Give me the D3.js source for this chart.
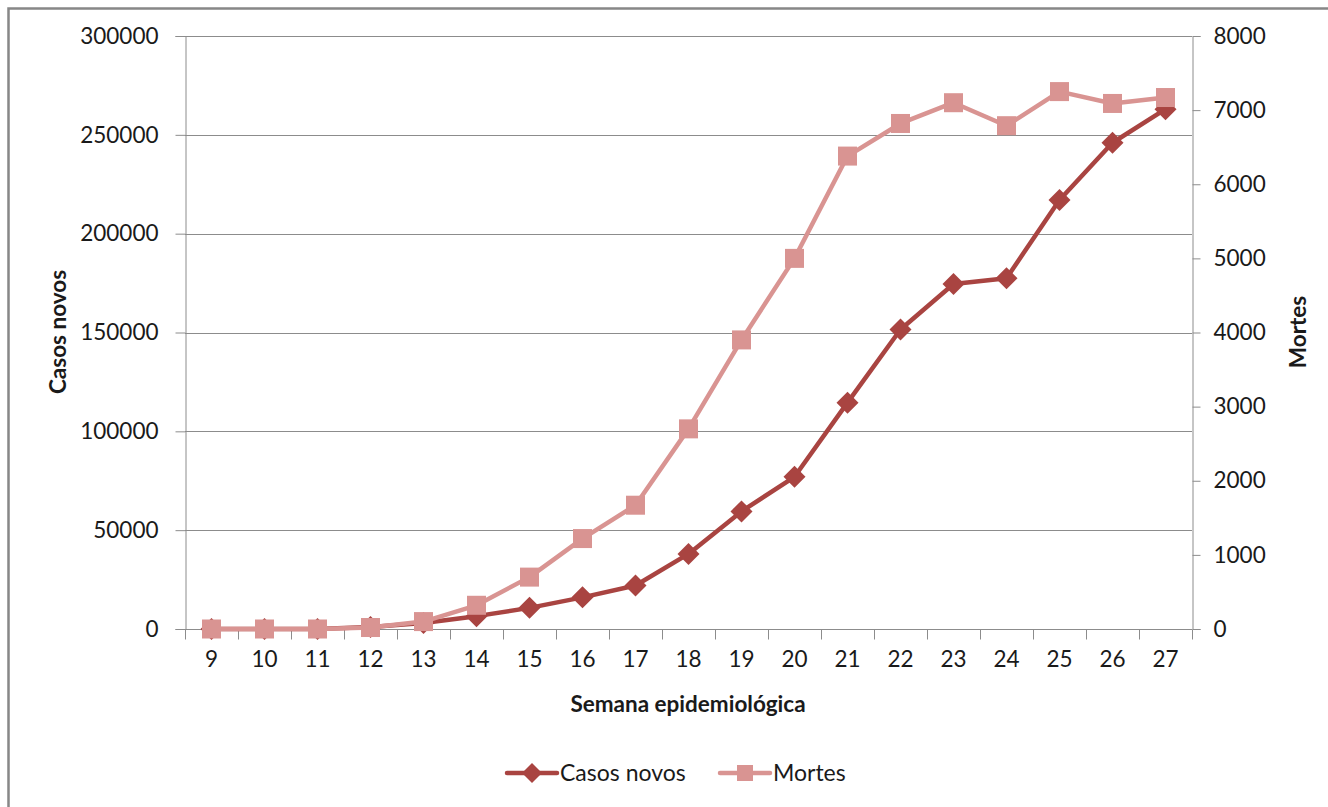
<!DOCTYPE html>
<html>
<head>
<meta charset="utf-8">
<script src="https://cdn.jsdelivr.net/npm/d3@7"></script>
<style>
  html, body { margin: 0; padding: 0; background: #fff; }
  svg { display: block; }
  text { font-family: Lato, "Open Sans", sans-serif; fill: #1a1a1a; }
</style>
</head>
<body>
<svg id="chart" width="1328" height="807"></svg>
<script>
// Semanas epidemiológicas
const semanas = [9, 10, 11, 12, 13, 14, 15, 16, 17, 18, 19, 20, 21, 22, 23, 24, 25, 26, 27];
// Casos novos por semana (eixo esquerdo)
const casosNovos = [0, 0, 0, 1000, 3000, 6500, 10700, 16000, 22000, 38000, 59500, 77000, 114500, 151500, 174500, 177500, 217000, 246000, 263000];
// Mortes por semana (eixo direito)
const mortes = [0, 0, 0, 20, 100, 320, 700, 1220, 1670, 2700, 3900, 5000, 6380, 6820, 7100, 6790, 7250, 7090, 7170];
// Marcas dos eixos
const ticksCasos = [0, 50000, 100000, 150000, 200000, 250000, 300000];
const ticksMortes = [0, 1000, 2000, 3000, 4000, 5000, 6000, 7000, 8000];

const corCasos = "#A94441";
const corMortes = "#D99492";

const svg = d3.select("#chart");
const m = { left: 185, right: 1192, top: 36, bottom: 629 };

// Moldura externa
svg.append("rect")
  .attr("x", 8.5).attr("y", 8.5)
  .attr("width", 1340).attr("height", 820)
  .attr("fill", "none").attr("stroke", "#878787").attr("stroke-width", 2.5);

const x = d3.scaleBand().domain(semanas).range([m.left, m.right]);
const yL = d3.scaleLinear().domain([0, 300000]).range([m.bottom, m.top]);
const yR = d3.scaleLinear().domain([0, 8000]).range([m.bottom, m.top]);

// Linhas de grade
svg.append("g").selectAll("line").data(ticksCasos.slice(1)).join("line")
  .attr("x1", m.left).attr("x2", m.right)
  .attr("y1", d => Math.round(yL(d)) + 0.5).attr("y2", d => Math.round(yL(d)) + 0.5)
  .attr("stroke", "#8c8c8c").attr("stroke-width", 1);

// Eixo esquerdo
const axL = svg.append("g").attr("transform", `translate(${m.left + 0.5},0)`)
  .call(d3.axisLeft(yL).tickValues(ticksCasos).tickFormat(d3.format("d")).tickSize(10).tickPadding(17));
// Eixo direito
const axR = svg.append("g").attr("transform", `translate(${m.right + 0.5},0)`)
  .call(d3.axisRight(yR).tickValues(ticksMortes).tickFormat(d3.format("d")).tickSize(8).tickPadding(13));
// Eixo X
const axX = svg.append("g").attr("transform", `translate(0,${m.bottom + 0.5})`)
  .call(d3.axisBottom(x).tickSize(0).tickPadding(22));
// Traços do eixo X entre as categorias
axX.selectAll(".sep").data(d3.range(semanas.length + 1)).join("line")
  .attr("class", "sep")
  .attr("x1", i => Math.round(m.left + i * x.step()) + 0.5)
  .attr("x2", i => Math.round(m.left + i * x.step()) + 0.5)
  .attr("y1", 0).attr("y2", 10)
  .attr("stroke", "#8c8c8c");

[axL, axR, axX].forEach(a => {
  a.select(".domain").attr("stroke", "#8c8c8c");
  a.selectAll(".tick line").attr("stroke", "#8c8c8c");
  a.selectAll("text").style("font-family", "Lato, 'Open Sans', sans-serif").style("font-size", "22.5px").attr("fill", "#1a1a1a");
});
axX.select(".domain").attr("d", `M${m.left},0H${m.right}`);

// Títulos dos eixos
svg.append("text").attr("transform", "translate(66,332) rotate(-90)")
  .attr("text-anchor", "middle").style("font-size", "22.5px").style("font-weight", "bold").text("Casos novos");
svg.append("text").attr("transform", "translate(1306,332) rotate(-90)")
  .attr("text-anchor", "middle").style("font-size", "22.5px").style("font-weight", "bold").text("Mortes");
svg.append("text").attr("x", 688).attr("y", 712)
  .attr("text-anchor", "middle").style("font-size", "22.5px").style("font-weight", "bold").text("Semana epidemiológica");

const cx = d => x(d) + x.bandwidth() / 2;

// Série Casos novos
const lineC = d3.line().x((d, i) => cx(semanas[i])).y(d => yL(d));
svg.append("path").datum(casosNovos).attr("d", lineC)
  .attr("fill", "none").attr("stroke", corCasos).attr("stroke-width", 4.5).attr("stroke-linejoin", "round");
const diamond = "M0,-11L11,0L0,11L-11,0Z";
svg.append("g").selectAll("path").data(casosNovos).join("path")
  .attr("transform", (d, i) => `translate(${cx(semanas[i])},${yL(d)})`)
  .attr("d", diamond).attr("fill", corCasos);

// Série Mortes (desenhada por cima)
const lineM = d3.line().x((d, i) => cx(semanas[i])).y(d => yR(d));
svg.append("path").datum(mortes).attr("d", lineM)
  .attr("fill", "none").attr("stroke", corMortes).attr("stroke-width", 4.5).attr("stroke-linejoin", "round");
svg.append("g").selectAll("rect").data(mortes).join("rect")
  .attr("x", (d, i) => cx(semanas[i]) - 9.5).attr("y", d => yR(d) - 9.5)
  .attr("width", 19).attr("height", 19).attr("fill", corMortes);

// Legenda
const leg = svg.append("g");
leg.append("line").attr("x1", 507).attr("x2", 557).attr("y1", 773).attr("y2", 773)
  .attr("stroke", corCasos).attr("stroke-width", 4.5).attr("stroke-linecap", "round");
leg.append("path").attr("transform", "translate(532,773)").attr("d", "M0,-10L10,0L0,10L-10,0Z").attr("fill", corCasos);
leg.append("text").attr("x", 560).attr("y", 781).style("font-size", "23px").text("Casos novos");
leg.append("line").attr("x1", 720).attr("x2", 770).attr("y1", 773).attr("y2", 773)
  .attr("stroke", corMortes).attr("stroke-width", 4.5).attr("stroke-linecap", "round");
leg.append("rect").attr("x", 737).attr("y", 765).attr("width", 16).attr("height", 16).attr("fill", corMortes);
leg.append("text").attr("x", 773).attr("y", 781).style("font-size", "23px").text("Mortes");
</script>
</body>
</html>
